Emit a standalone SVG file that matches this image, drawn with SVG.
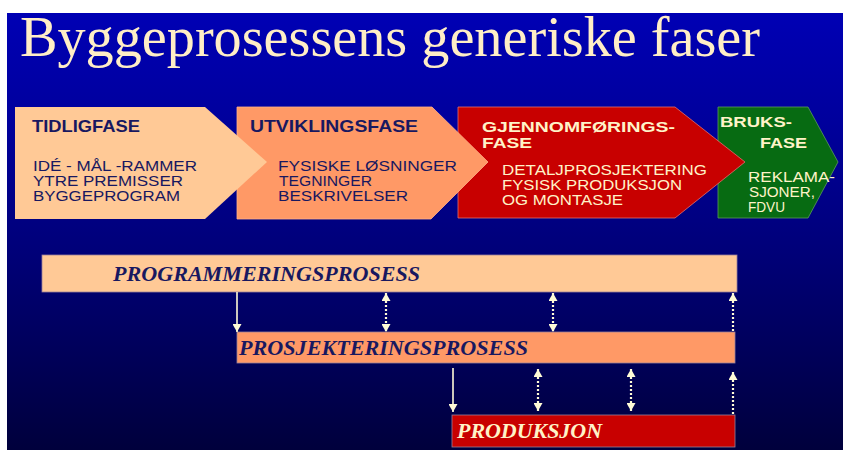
<svg xmlns="http://www.w3.org/2000/svg" width="843" height="450" viewBox="0 0 843 450">
<defs>
<linearGradient id="bg" x1="0" y1="0" x2="0" y2="1">
<stop offset="0" stop-color="#0000b4"/>
<stop offset="0.25" stop-color="#00009c"/>
<stop offset="0.55" stop-color="#000078"/>
<stop offset="1" stop-color="#00003c"/>
</linearGradient>
<marker id="ah" viewBox="0 0 8 9" refX="8" refY="4.5" markerWidth="8" markerHeight="9" markerUnits="userSpaceOnUse" orient="auto-start-reverse">
<path d="M0,0 L8,4.5 L0,9 Z" fill="#fffbd6"/>
</marker>
<style>
.head{font-family:"Liberation Sans",Arial,sans-serif;font-weight:bold;font-size:17px}
.head2{font-family:"Liberation Sans",Arial,sans-serif;font-weight:bold;font-size:15.5px}
.body{font-family:"Liberation Sans",Arial,sans-serif;font-size:14.5px}
.navy{fill:#181860}
.cream{fill:#fff3c8}
.proc{font-family:"Liberation Serif","Times New Roman",serif;font-weight:bold;font-style:italic;font-size:22px}
.solid{stroke:#fffbd6;stroke-width:1.6;fill:none}
.dot{stroke:#fffbd6;stroke-width:2.2;stroke-dasharray:2 2;fill:none}
.bar{stroke:#9a7f9a;stroke-width:0.8}
</style>
</defs>
<rect x="7" y="13" width="836" height="437" fill="url(#bg)"/>
<text x="20" y="56" font-family="'Liberation Serif','Times New Roman',serif" font-size="56" fill="#ffeec6" textLength="740" lengthAdjust="spacingAndGlyphs">Byggeprosessens generiske faser</text>

<g id="bruksfase">
<polygon points="718,107 808,107 838,162 808,218 718,218" fill="#076b12" stroke="#5c9a5c" stroke-width="0.8"/>
<text class="head2 cream" x="720" y="127" textLength="72" lengthAdjust="spacingAndGlyphs">BRUKS-</text>
<text class="head2 cream" x="760" y="148" textLength="47" lengthAdjust="spacingAndGlyphs">FASE</text>
<text class="body cream" x="748" y="182" textLength="87" lengthAdjust="spacingAndGlyphs">REKLAMA-</text>
<text class="body cream" x="749" y="197" textLength="66" lengthAdjust="spacingAndGlyphs">SJONER,</text>
<text class="body cream" x="748" y="212" textLength="37" lengthAdjust="spacingAndGlyphs">FDVU</text>
</g>

<g id="gjennomforingsfase">
<polygon points="458,107 675,107 745,162 675,218 458,218" fill="#c80000" stroke="#e07070" stroke-width="0.8"/>
<text class="head2 cream" x="482" y="132" textLength="193" lengthAdjust="spacingAndGlyphs">GJENNOMFØRINGS-</text>
<text class="head2 cream" x="482" y="148" textLength="50" lengthAdjust="spacingAndGlyphs">FASE</text>
<text class="body cream" x="502" y="175" textLength="205" lengthAdjust="spacingAndGlyphs">DETALJPROSJEKTERING</text>
<text class="body cream" x="502" y="190" textLength="180" lengthAdjust="spacingAndGlyphs">FYSISK PRODUKSJON</text>
<text class="body cream" x="502" y="205" textLength="121" lengthAdjust="spacingAndGlyphs">OG MONTASJE</text>
</g>

<g id="utviklingsfase">
<polygon points="237,107 432,107 488,162 431,219 237,219" fill="#ff9966" stroke="#ffb088" stroke-width="0.8"/>
<text class="head navy" x="250" y="132" textLength="168" lengthAdjust="spacingAndGlyphs">UTVIKLINGSFASE</text>
<text class="body navy" x="278" y="171" textLength="179" lengthAdjust="spacingAndGlyphs">FYSISKE LØSNINGER</text>
<text class="body navy" x="279" y="186" textLength="93" lengthAdjust="spacingAndGlyphs">TEGNINGER</text>
<text class="body navy" x="278" y="201" textLength="130" lengthAdjust="spacingAndGlyphs">BESKRIVELSER</text>
</g>

<g id="tidligfase">
<polygon points="15,107 205,107 267,162 205,219 15,219" fill="#ffc996"/>
<text class="head navy" x="32" y="132" textLength="108" lengthAdjust="spacingAndGlyphs">TIDLIGFASE</text>
<text class="body navy" x="33" y="171" textLength="164" lengthAdjust="spacingAndGlyphs">IDÉ - MÅL -RAMMER</text>
<text class="body navy" x="33" y="186" textLength="150" lengthAdjust="spacingAndGlyphs">YTRE PREMISSER</text>
<text class="body navy" x="33" y="201" textLength="147" lengthAdjust="spacingAndGlyphs">BYGGEPROGRAM</text>
</g>

<g id="programmeringsprosess">
<rect class="bar" x="42" y="255" width="695" height="37" fill="#ffc996"/>
<text class="proc navy" x="113" y="281" textLength="307" lengthAdjust="spacingAndGlyphs">PROGRAMMERINGSPROSESS</text>
</g>

<g id="prosjekteringsprosess">
<rect class="bar" x="237" y="332" width="498" height="31" fill="#ff9966"/>
<text class="proc navy" x="239" y="355" textLength="289" lengthAdjust="spacingAndGlyphs">PROSJEKTERINGSPROSESS</text>
</g>

<g id="produksjon">
<rect class="bar" x="452" y="415" width="283" height="32" fill="#c80000"/>
<text class="proc cream" x="457" y="438" textLength="145" lengthAdjust="spacingAndGlyphs">PRODUKSJON</text>
</g>

<g id="connectors">
<line class="solid" x1="237" y1="292" x2="237" y2="332" marker-end="url(#ah)"/>
<line class="dot" x1="386" y1="293" x2="386" y2="332" marker-start="url(#ah)" marker-end="url(#ah)"/>
<line class="dot" x1="553" y1="293" x2="553" y2="332" marker-start="url(#ah)" marker-end="url(#ah)"/>
<line class="dot" x1="733" y1="293" x2="733" y2="332" marker-start="url(#ah)"/>
<line class="solid" x1="453" y1="368" x2="453" y2="412" marker-end="url(#ah)"/>
<line class="dot" x1="538" y1="369" x2="538" y2="411" marker-start="url(#ah)" marker-end="url(#ah)"/>
<line class="dot" x1="631" y1="369" x2="631" y2="411" marker-start="url(#ah)" marker-end="url(#ah)"/>
<line class="dot" x1="733" y1="372" x2="733" y2="414" marker-start="url(#ah)"/>
</g>
</svg>
